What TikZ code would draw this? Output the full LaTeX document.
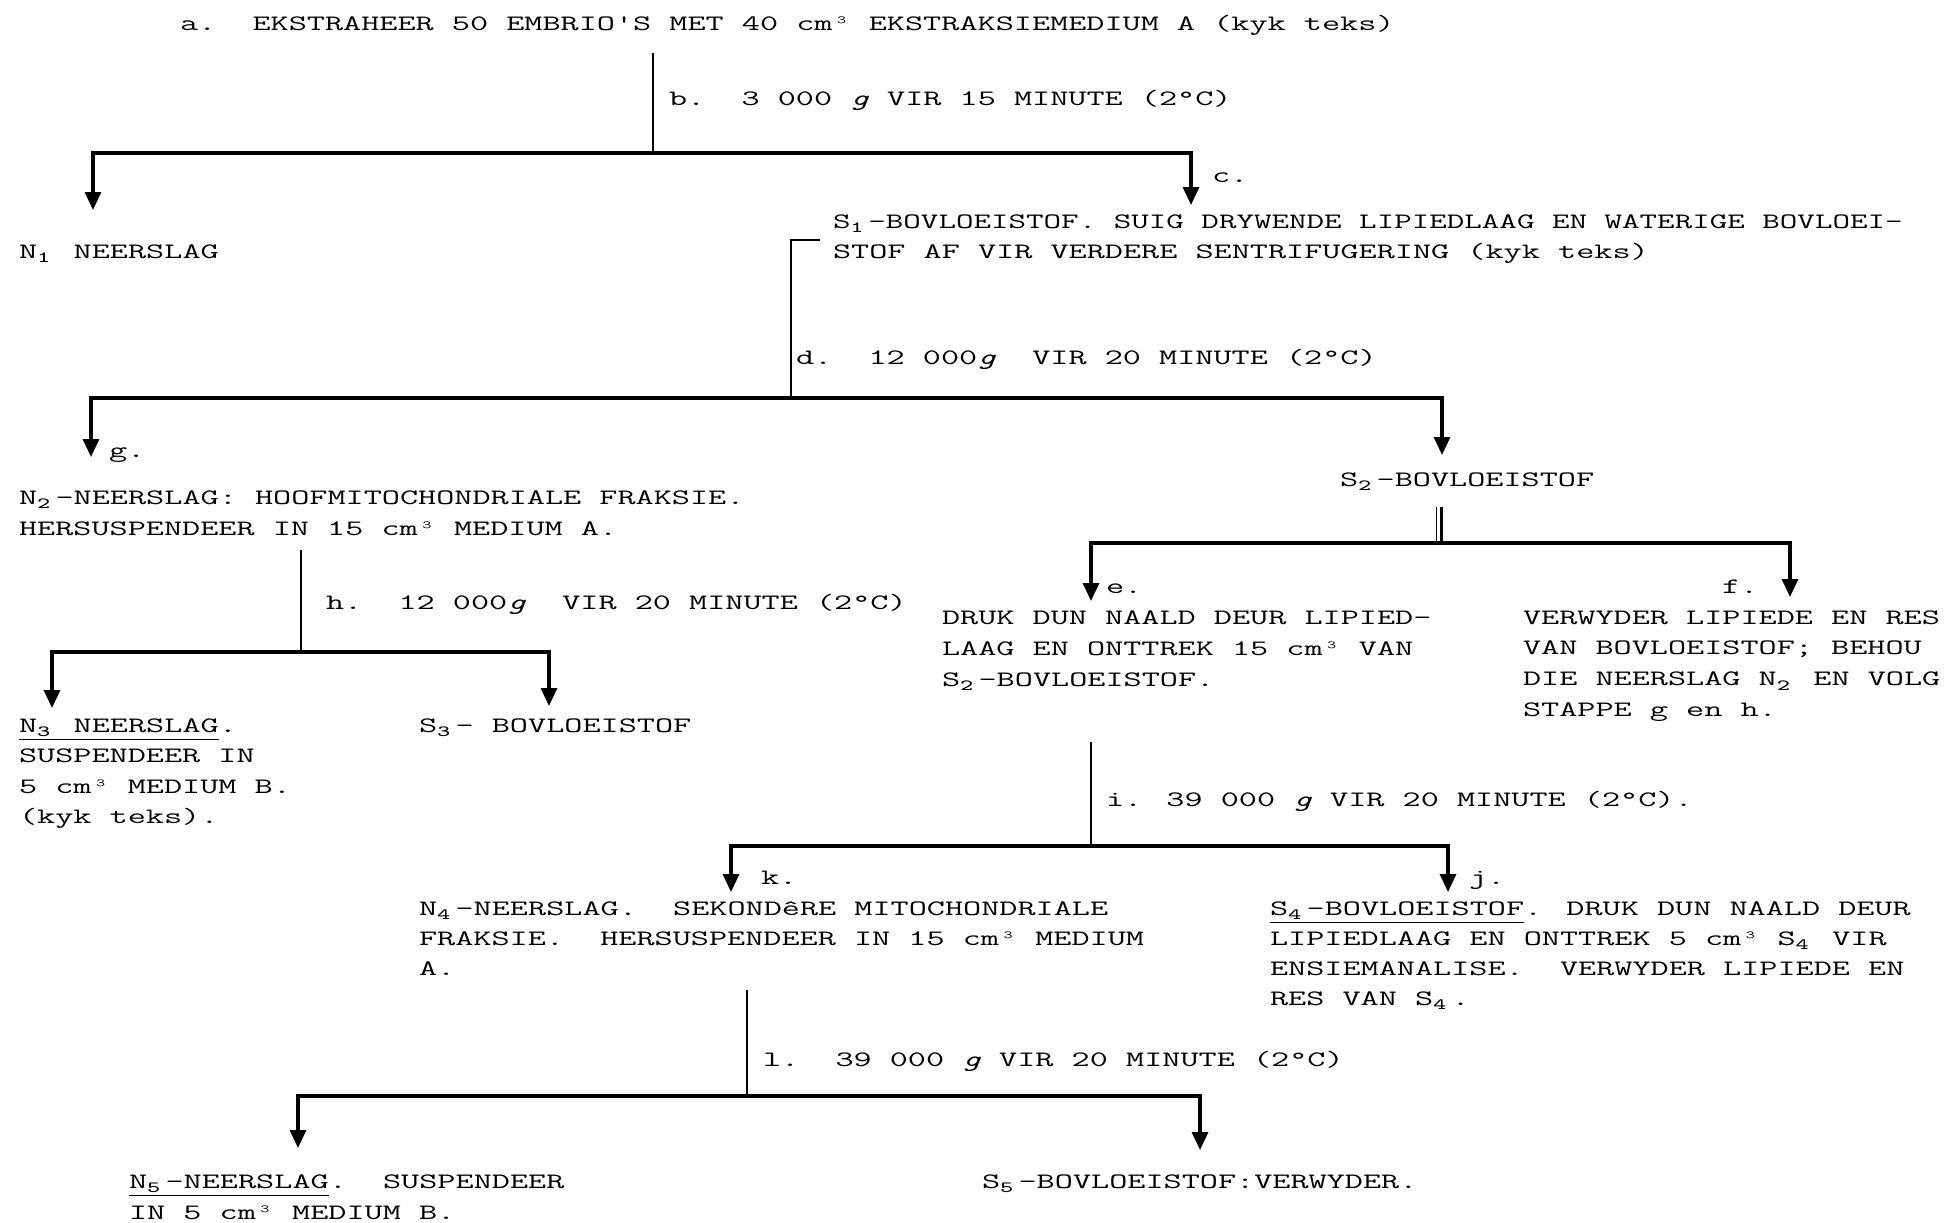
\documentclass[tikz,border=0pt]{standalone}
\usepackage{fontspec}
\usepackage{graphicx}
\usetikzlibrary{arrows.meta}
\newcommand\sbs[1]{\makebox[5.775pt][l]{\raisebox{-2.2pt}{\fontsize{7.8pt}{7.8pt}\selectfont #1}}}
\newcommand\ml[1]{\begin{tabular}[t]{@{}l@{}}#1\end{tabular}}
\tikzset{
  txt/.style={font=\ttfamily\fontsize{11pt}{15.5pt}\selectfont, inner sep=0pt, outer sep=0pt,
              anchor=base west, xscale=1.60},
  lsp/.style={font=\ttfamily\fontsize{11pt}{#1}\selectfont},
  stem/.style={line width=1pt},
  bar/.style={line width=1.6pt},
  arr/.style={-{Triangle[length=9pt,width=8pt]}},
}
\begin{document}
\begin{tikzpicture}[x=0.5pt,y=-0.5pt]
\fill[white] (0,0) rectangle (1949,1222);
\useasboundingbox (0,0) rectangle (1949,1222);

% ---- texts ----
\node[txt] (a) at (180,30) {a.~~EKSTRAHEER 50 EMBRIO'S MET 40 cm³ EKSTRAKSIEMEDIUM A (kyk teks)};
\node[txt] (b) at (669,105) {b.~~3 000 \textit{g} VIR 15 MINUTE (2°C)};
\node[txt] (c) at (1212,182) {c.};
\node[txt] (n1) at (19,258) {N\sbs{1} NEERSLAG};
\node[txt,lsp=15pt] (s1) at (833,228) {\ml{\scalebox{0.967}[1]{S\sbs{1}-BOVLOEISTOF. SUIG DRYWENDE LIPIEDLAAG EN WATERIGE BOVLOEI-}\\STOF AF VIR VERDERE SENTRIFUGERING (kyk teks)}};
\node[txt] (d) at (796,364) {d.~~12 000\textit{g}~~VIR 20 MINUTE (2°C)};
\node[txt] (g) at (109,457) {g.};
\node[txt] (s2) at (1340,486) {S\sbs{2}-BOVLOEISTOF};
\node[txt] (n2) at (19,504) {\ml{N\sbs{2}-NEERSLAG: HOOFMITOCHONDRIALE FRAKSIE.\\HERSUSPENDEER IN 15 cm³ MEDIUM A.}};
\node[txt] (h) at (326,609) {h.~~12 000\textit{g}~~VIR 20 MINUTE (2°C)};
\node[txt,lsp=15.25pt] (n3) at (19,732) {\ml{\underline{N\sbs{3} NEERSLAG}.\\SUSPENDEER IN\\5 cm³ MEDIUM B.\\(kyk teks).}};
\node[txt] (s3) at (419,732) {S\sbs{3}- BOVLOEISTOF};
\node[txt] (e) at (1106,593) {e.};
\node[txt] (f) at (1722,593) {f.};
\node[txt] (et) at (942,624) {\ml{DRUK DUN NAALD DEUR LIPIED-\\LAAG EN ONTTREK 15 cm³ VAN\\S\sbs{2}-BOVLOEISTOF.}};
\node[txt,lsp=15.4pt] (ft) at (1523,624) {\ml{VERWYDER LIPIEDE EN RES\\VAN BOVLOEISTOF; BEHOU\\DIE NEERSLAG N\sbs{2} EN VOLG\\STAPPE g en h.}};
\node[txt] (i) at (1106,806) {i. 39 000 \textit{g} VIR 20 MINUTE (2°C).};
\node[txt] (k) at (761,884) {k.};
\node[txt] (j) at (1469,884) {j.};
\node[txt,lsp=15pt] (n4) at (419,915) {\ml{N\sbs{4}-NEERSLAG.~~SEKONDêRE MITOCHONDRIALE\\FRAKSIE.~~HERSUSPENDEER IN 15 cm³ MEDIUM\\A.}};
\node[txt,lsp=15pt] (s4) at (1270,915) {\ml{\underline{S\sbs{4}-BOVLOEISTOF}. DRUK DUN NAALD DEUR\\LIPIEDLAAG EN ONTTREK 5 cm³ S\sbs{4} VIR\\ENSIEMANALISE.~~VERWYDER LIPIEDE EN\\RES VAN S\sbs{4}.}};
\node[txt] (l) at (763,1066) {l.~~39 000 \textit{g} VIR 20 MINUTE (2°C)};
\node[txt] (n5) at (129,1188) {\ml{\underline{N\sbs{5}-NEERSLAG}.~~SUSPENDEER\\IN 5 cm³ MEDIUM B.}};
\node[txt] (s5) at (982,1188) {S\sbs{5}-BOVLOEISTOF:VERWYDER.};

% ---- connector points ----
\coordinate (a0) at (653,53);
\coordinate (jb) at (653,153);
\coordinate (tn1) at (93,210);
\coordinate (ts1) at (1191,205);
\coordinate (s1k) at (820,240);
\coordinate (jd) at (791,398);
\coordinate (tg) at (91,457);
\coordinate (ts2) at (1442,455);
\coordinate (n2s) at (301,550);
\coordinate (jh) at (301,652);
\coordinate (tn3) at (52,708);
\coordinate (ts3) at (549,706);
\coordinate (s2s) at (1440,507);
\coordinate (je) at (1440,543);
\coordinate (te) at (1091,601);
\coordinate (tf) at (1790,597);
\coordinate (es) at (1091,742);
\coordinate (ji) at (1091,846);
\coordinate (tk) at (731,892);
\coordinate (tj) at (1448,892);
\coordinate (n4s) at (747,990);
\coordinate (jl) at (747,1096);
\coordinate (tn5) at (298,1148);
\coordinate (ts5) at (1200,1150);

% ---- connectors ----
\draw[stem] (a0) -- (jb);
\draw[bar,arr] (jb) -| (tn1);
\draw[bar,arr] (jb) -| (ts1);

\draw[stem] (s1k) -| (jd);
\draw[bar,arr] (jd) -| (tg);
\draw[bar,arr] (jd) -| (ts2);

\draw[stem] (n2s) -- (jh);
\draw[bar,arr] (jh) -| (tn3);
\draw[bar,arr] (jh) -| (ts3);

\draw[line width=0.5pt] ([xshift=-1.6pt]s2s) -- ([xshift=-1.6pt]je);
\draw[line width=1.2pt] ([xshift=0.8pt]s2s) -- ([xshift=0.8pt]je);
\draw[bar,arr] (je) -| (te);
\draw[bar,arr] (je) -| (tf);

\draw[stem] (es) -- (ji);
\draw[bar,arr] (ji) -| (tk);
\draw[bar,arr] (ji) -| (tj);

\draw[stem] (n4s) -- (jl);
\draw[bar,arr] (jl) -| (tn5);
\draw[bar,arr] (jl) -| (ts5);
\end{tikzpicture}
\end{document}
